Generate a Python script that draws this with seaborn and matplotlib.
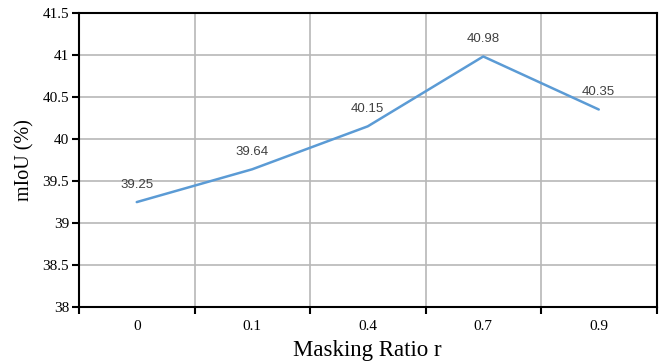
import matplotlib
matplotlib.use("Agg")
import matplotlib.pyplot as plt
import seaborn as sns
import pandas as pd
import numpy as np
from matplotlib.ticker import FixedLocator

ratios = ["0", "0.1", "0.4", "0.7", "0.9"]
miou = [39.25, 39.64, 40.15, 40.98, 40.35]

sns.set_theme(style="white")
plt.rcParams['font.family'] = ['Liberation Serif', 'DejaVu Serif']

df = pd.DataFrame({"ratio": ratios, "miou": miou})

fig = plt.figure(figsize=(6.61, 3.62), dpi=100)
ax = fig.add_axes([79/661, 1 - 307.3/362, (656.5-79)/661, (307.3-12.7)/362])

sns.lineplot(data=df, x="ratio", y="miou", ax=ax, color="#5B9BD5", linewidth=1.8, sort=False)

ax.set_xlim(-0.5, len(ratios) - 0.5)
ax.set_ylim(38, 41.5)
ax.set_yticks(np.arange(38, 41.51, 0.5))
ax.set_yticklabels(["38", "38.5", "39", "39.5", "40", "40.5", "41", "41.5"])
ax.set_xticks(range(len(ratios)))
ax.set_xticklabels(ratios)
ax.xaxis.set_minor_locator(FixedLocator(np.arange(-0.5, len(ratios), 1.0)))

ax.tick_params(axis="x", which="major", length=0, pad=9, labelsize=11, colors="black")
ax.tick_params(axis="x", which="minor", length=5, width=1.5, direction="out", bottom=True, color="black")
ax.tick_params(axis="y", which="major", length=5, width=1.5, direction="out", left=True, labelsize=11, colors="black", pad=2)

ax.grid(False)
ax.yaxis.grid(True, color="#b8b8b8", linewidth=1.2)
ax.xaxis.grid(True, which="minor", color="#b8b8b8", linewidth=1.2)
ax.set_axisbelow(True)

for s in ax.spines.values():
    s.set_visible(True)
    s.set_color("black")
    s.set_linewidth(1.5)

for i, v in enumerate(miou):
    ax.annotate(f"{v:.2f}", (i, v), xytext=(0, 8), textcoords="offset points",
                ha="center", va="bottom", fontsize=9.5, color="#404040",
                family=["Liberation Sans", "DejaVu Sans"])

ax.set_xlabel("Masking Ratio r", fontsize=16.5, color="black", labelpad=5)
ax.set_ylabel("mIoU (%)", fontsize=14.5, color="black", labelpad=6)

fig.savefig("out.png", dpi=100)
